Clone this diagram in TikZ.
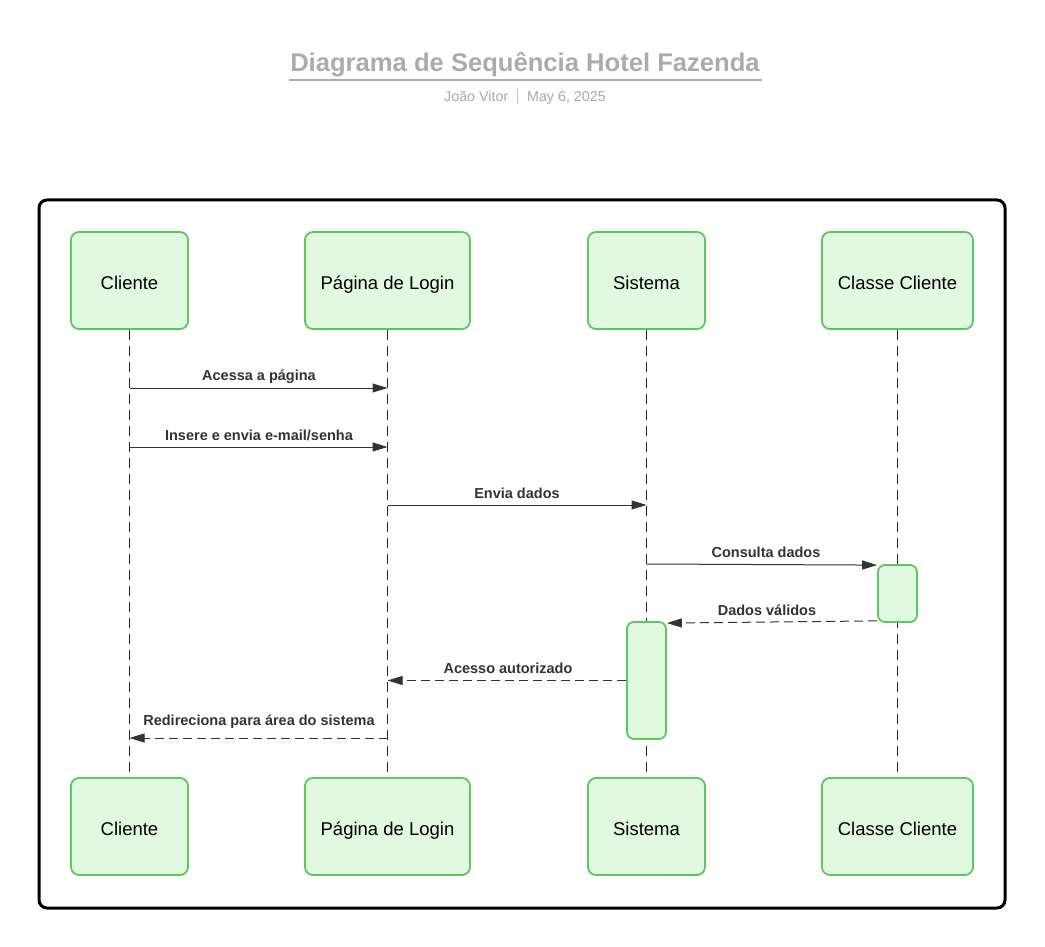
\documentclass[tikz,border=0pt]{standalone}
\usepackage{fontspec}
\setmainfont{Liberation Sans}
\usetikzlibrary{arrows.meta}
\definecolor{boxfill}{HTML}{E1F9E1}
\definecolor{boxdraw}{HTML}{5CC85C}
\definecolor{titlegray}{HTML}{ABABAB}
\definecolor{subgray}{HTML}{A8A8A8}
\definecolor{ink}{HTML}{333333}
\begin{document}
\begin{tikzpicture}[x=1pt,y=-1pt,
  actor/.style={draw=boxdraw, fill=boxfill, line width=1.8pt, rounded corners=8pt,
    minimum height=97pt, inner sep=0pt, font=\fontsize{18.5}{22}\selectfont, text=black,
    text height=17pt, text depth=0pt},
  actbox/.style={draw=boxdraw, fill=boxfill, line width=1.8pt, rounded corners=7pt,
    minimum width=39pt, inner sep=0pt},
  lifeline/.style={draw=black!85, line width=0.9pt, dash pattern=on 10pt off 6pt},
  msg/.style={draw=ink, line width=1pt, -{Triangle[length=15pt,width=9pt]}},
  reply/.style={msg, dash pattern=on 9pt off 5pt},
  mlabel/.style={font=\bfseries\fontsize{14.5}{16}\selectfont, text=ink, inner sep=0pt}
]
\useasboundingbox (0,0) rectangle (1045,947);

% title
\node[font=\bfseries\fontsize{25.6}{30}\selectfont, text=titlegray, inner xsep=2pt, inner ysep=0pt] (title) at (525,65) {Diagrama de Sequência Hotel Fazenda};
\coordinate (ulL) at (289,80);
\coordinate (ulR) at (762,80);
\draw[titlegray, line width=2pt] (ulL) -- (ulR);
\node[font=\fontsize{14.3}{16}\selectfont, text=subgray] (sub) at (525,97) {João Vitor\hspace{9pt}\textcolor{subgray!70}{\rule[-3pt]{0.8pt}{15pt}}\hspace{9pt}May 6, 2025};

% frame
\draw[line width=3pt, rounded corners=8pt] (39,200) rectangle (1005,908);

% participants
\node[actor, minimum width=117pt] (p1) at (129.5,280.5) {Cliente};
\node[actor, minimum width=165pt] (p2) at (387.5,280.5) {Página de Login};
\node[actor, minimum width=117pt] (p3) at (646.5,280.5) {Sistema};
\node[actor, minimum width=151pt] (p4) at (897.5,280.5) {Classe Cliente};
\node[actor, minimum width=117pt] (q1) at (129.5,826.5) {Cliente};
\node[actor, minimum width=165pt] (q2) at (387.5,826.5) {Página de Login};
\node[actor, minimum width=117pt] (q3) at (646.5,826.5) {Sistema};
\node[actor, minimum width=151pt] (q4) at (897.5,826.5) {Classe Cliente};

% lifelines
\draw[lifeline] (p1.south) -- (q1.north);
\draw[lifeline] (p2.south) -- (q2.north);
\draw[lifeline] (p3.south) -- (q3.north);
\draw[lifeline] (p4.south) -- (q4.north);

% activation boxes
\node[actbox, minimum height=57pt] (act1) at (897.5,593.5) {};
\node[actbox, minimum height=117pt] (act2) at (646.5,680.5) {};

% message rows
\coordinate (r1) at (0,388);
\coordinate (r2) at (0,447);
\coordinate (r3) at (0,505);
\coordinate (r4) at (0,564);
\coordinate (r7) at (0,738);

\draw[msg] (p1 |- r1) -- (p2 |- r1);
\node[mlabel] (l1) at (259,377) {Acessa a página};

\draw[msg] (p1 |- r2) -- (p2 |- r2);
\node[mlabel] (l2) at (259,435.5) {Insere e envia e-mail/senha};

\draw[msg] (p2 |- r3) -- (p3 |- r3);
\node[mlabel] (l3) at (517,493.5) {Envia dados};

\draw[msg] (p3 |- r4) -- ([yshift=-1pt]act1.north west);
\node[mlabel] (l4) at (766,552.5) {Consulta dados};

\draw[reply] ([yshift=2pt]act1.south west) -- ([yshift=-2pt]act2.north east);
\node[mlabel] (l5) at (767,610.5) {Dados válidos};

\draw[reply] (act2.west) -- (p2 |- act2.west);
\node[mlabel] (l6) at (508,668.5) {Acesso autorizado};

\draw[reply] (p2 |- r7) -- (p1 |- r7);
\node[mlabel] (l7) at (259,721.5) {Redireciona para área do sistema};
\end{tikzpicture}
\end{document}
